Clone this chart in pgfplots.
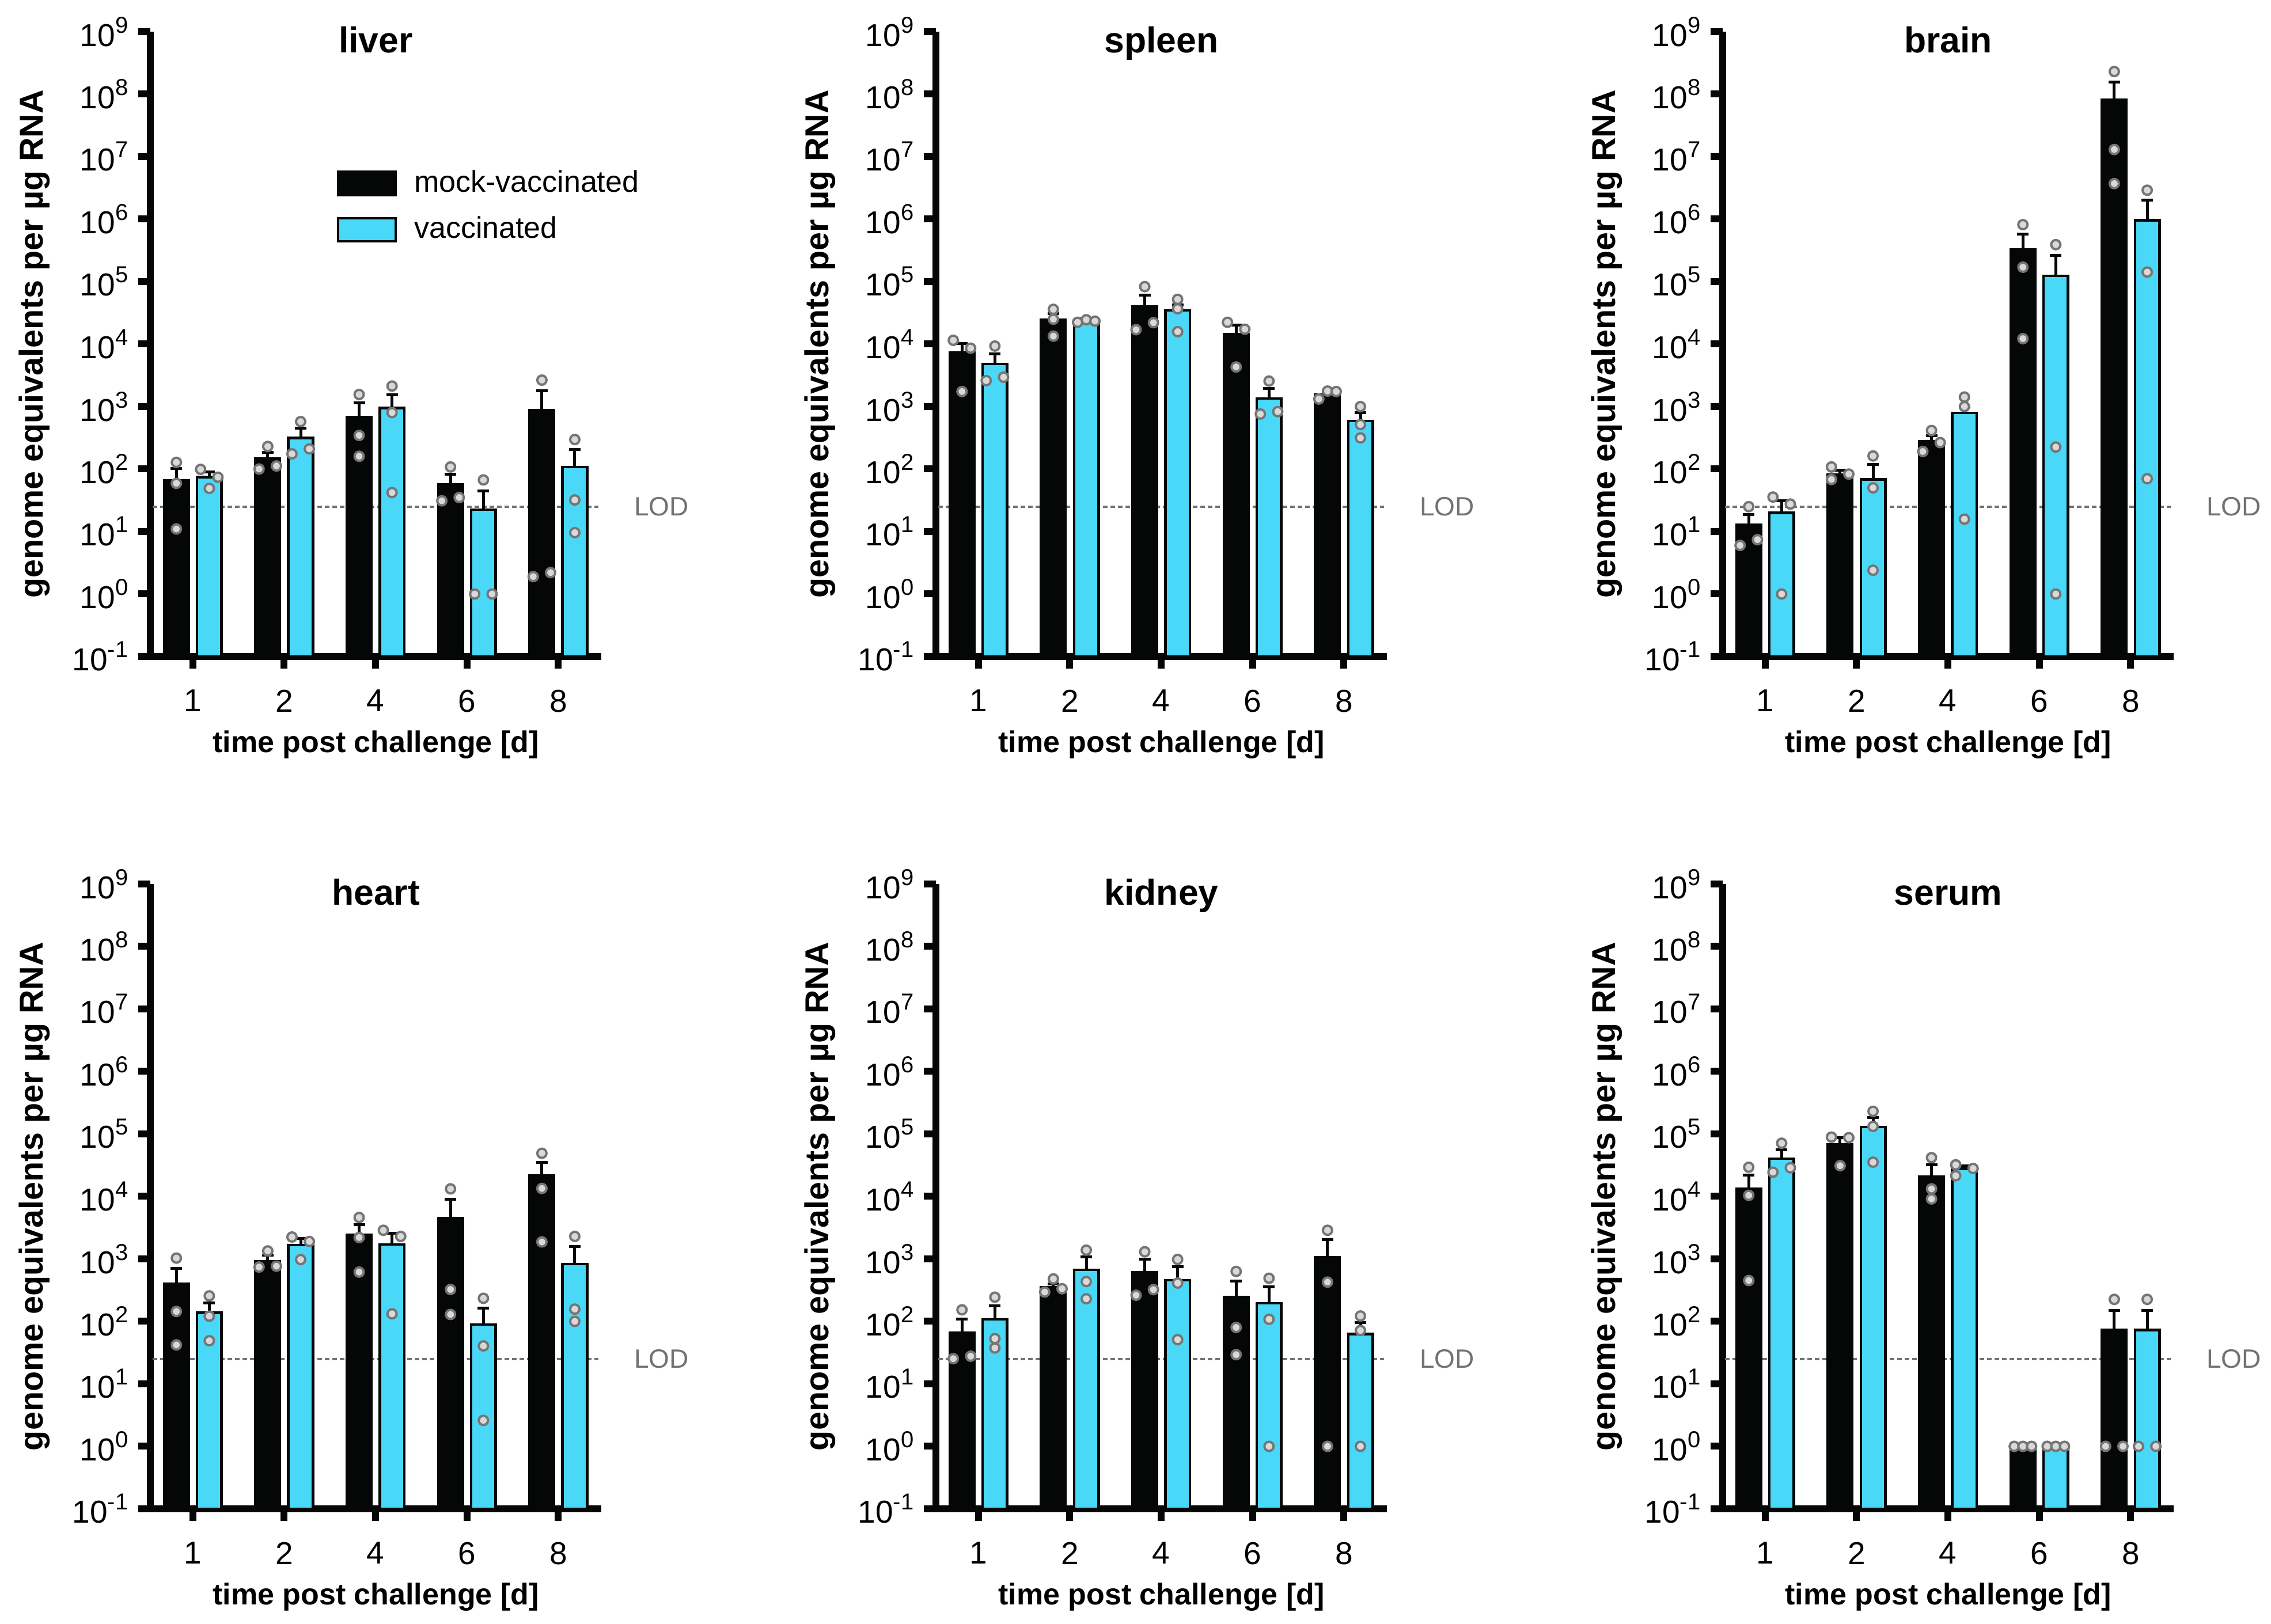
\documentclass[border=0pt]{standalone}
\usepackage{pgfplots}
\pgfplotsset{compat=1.18}
\usepackage{fontspec}
\setmainfont{Liberation Sans}

\definecolor{mockblk}{HTML}{050707}
\definecolor{vaccyan}{HTML}{4AD8F9}
\definecolor{dotedge}{HTML}{757575}
\definecolor{dotfill}{HTML}{D9D9D9}
\definecolor{lodgray}{HTML}{707375}

% 10^k tick label, exponent set large as in the figure
\newcommand\tp[1]{10\raisebox{4.6pt}{\fontsize{8}{8}\selectfont #1}}

\pgfplotsset{
  organpanel/.style={
    anchor=south west, scale only axis, width=156.6pt, height=217pt,
    ymin=0.1, ymax=1e9, log origin y=infty,
    xmin=-0.465, xmax=4.47,
    axis x line*=bottom, axis y line*=left,
    axis line style={line width=2.4pt, mockblk},
    tick style={line width=2.4pt, mockblk},
    tick align=outside, major tick length=4.2pt,
    yminorticks=false,
    ytick={1e-1,1,10,100,1e3,1e4,1e5,1e6,1e7,1e8,1e9},
    yticklabels={\tp{-1},\tp{0},\tp{1},\tp{2},\tp{3},\tp{4},\tp{5},\tp{6},\tp{7},\tp{8},\tp{9}},
    xtick={0,1,2,3,4}, xticklabels={1,2,4,6,8},
    tick label style={font=\fontsize{11}{13}\selectfont},
    xticklabel style={yshift=-3.8pt},
    xlabel={time post challenge [d]},
    ylabel={genome equivalents per µg RNA},
    xlabel style={at={(axis description cs:0.5,-0.141)}, anchor=center,
      font=\bfseries\fontsize{10.4}{12}\selectfont},
    ylabel style={at={(axis description cs:-0.2567,0.5)}, anchor=center,
      font=\bfseries\fontsize{11.5}{13}\selectfont},
    title style={at={(axis description cs:0.5,0.939)}, anchor=base,
      font=\bfseries\fontsize{12.5}{14}\selectfont},
    clip=false
  },
  mockbar/.style={ybar, bar width=0.268, bar shift=0pt,
    fill=mockblk, draw=mockblk, line width=0.9pt,
    legend image code/.code={\draw[fill=mockblk, draw=mockblk, line width=0.9pt] (0pt,-4pt) rectangle (20pt,4pt);},
    error bars/y dir=plus, error bars/y explicit,
    error bars/error bar style={line width=1pt, draw=mockblk},
    error bars/error mark options={rotate=90, mark size=2pt, line width=1pt, draw=mockblk}},
  vaccbar/.style={ybar, bar width=0.268, bar shift=0pt,
    fill=vaccyan, draw=mockblk, line width=0.9pt,
    legend image code/.code={\draw[fill=vaccyan, draw=mockblk, line width=0.9pt] (0pt,-4pt) rectangle (20pt,4pt);},
    error bars/y dir=plus, error bars/y explicit,
    error bars/error bar style={line width=1pt, draw=mockblk},
    error bars/error mark options={rotate=90, mark size=2pt, line width=1pt, draw=mockblk}},
  dotpts/.style={only marks, mark=*, mark size=1.6pt,
    mark options={draw=dotedge, fill=dotfill, line width=0.8pt}, forget plot},
  lodline/.style={lodgray, line width=0.8pt, dash pattern=on 1.6pt off 1pt, forget plot}
}
\tikzset{lodlabel/.style={anchor=west, inner sep=0pt, xshift=11.2pt, text=lodgray,
  font=\fontsize{9.2}{12}\selectfont}}

\begin{document}
\begin{tikzpicture}
\path[use as bounding box] (0,0) rectangle (788.6pt,564pt);

%% liver
\begin{semilogyaxis}[organpanel, at={(52.2pt,336pt)}, title={liver},
  legend style={draw=none, fill=none, at={(axis description cs:0.412,0.788)},
    anchor=north west, inner sep=0pt, row sep=3pt, legend cell align=left,
    font=\fontsize{10.4}{12}\selectfont,
    /tikz/every odd column/.append style={column sep=4pt}}]
\addplot[lodline] coordinates {(-0.44,25) (4.44,25)};
\addplot[mockbar] coordinates {
  (-0.18,66) +- (0,36)
  (0.82,146) +- (0,39)
  (1.82,680) +- (0,470)
  (2.82,57) +- (0,26)
  (3.82,870) +- (0,910)
};
\addlegendentry{mock-vaccinated}
\addplot[vaccbar] coordinates {
  (0.18,74) +- (0,15)
  (1.18,315) +- (0,140)
  (2.18,950) +- (0,610)
  (3.18,22.4) +- (0,22.6)
  (4.18,108) +- (0,98)
};
\addlegendentry{vaccinated}
\addplot[dotpts] coordinates {
  (-0.18,128) (-0.18,59) (-0.18,11)
  (0.085,99) (0.18,49) (0.275,74)
  (0.725,100) (0.82,230) (0.915,112)
  (1.085,175) (1.18,575) (1.275,210)
  (1.82,1560) (1.82,345) (1.82,160)
  (2.18,2130) (2.18,800) (2.18,42)
  (2.725,31) (2.82,108) (2.915,35)
  (3.085,1) (3.18,67) (3.275,1)
  (3.725,1.9) (3.82,2650) (3.915,2.2)
  (4.18,297) (4.18,32) (4.18,9.6)
};
\node[lodlabel] at (axis cs:4.47,25) {LOD};
\end{semilogyaxis}

%% spleen
\begin{semilogyaxis}[organpanel, at={(325pt,336pt)}, title={spleen}]
\addplot[lodline] coordinates {(-0.44,25) (4.44,25)};
\addplot[mockbar] coordinates {
  (-0.18,7300) +- (0,3000)
  (0.82,24500) +- (0,6500)
  (1.82,40000) +- (0,21000)
  (2.82,14400) +- (0,5600)
  (3.82,1560) +- (0,200)
};
\addplot[vaccbar] coordinates {
  (0.18,4800) +- (0,2200)
  (1.18,23300) +- (0,2700)
  (2.18,34700) +- (0,8000)
  (3.18,1340) +- (0,610)
  (4.18,590) +- (0,210)
};
\addplot[dotpts] coordinates {
  (-0.275,11500) (-0.18,1740) (-0.085,8600)
  (0.085,2600) (0.18,9300) (0.275,2950)
  (0.82,36000) (0.82,25000) (0.82,13400)
  (1.085,22300) (1.18,24500) (1.275,23300)
  (1.725,17000) (1.82,83000) (1.915,22000)
  (2.18,52000) (2.18,36700) (2.18,15800)
  (2.725,22300) (2.82,4300) (2.915,17300)
  (3.085,760) (3.18,2560) (3.275,830)
  (3.725,1320) (3.82,1770) (3.915,1740)
  (4.18,1000) (4.18,515) (4.18,315)
};
\node[lodlabel] at (axis cs:4.47,25) {LOD};
\end{semilogyaxis}

%% brain
\begin{semilogyaxis}[organpanel, at={(598.2pt,336pt)}, title={brain}]
\addplot[lodline] coordinates {(-0.44,25) (4.44,25)};
\addplot[mockbar] coordinates {
  (-0.18,12.7) +- (0,6)
  (0.82,81) +- (0,14)
  (1.82,280) +- (0,65)
  (2.82,325000) +- (0,250000)
  (3.82,8.2e7) +- (0,7.4e7)
};
\addplot[vaccbar] coordinates {
  (0.18,20) +- (0,11)
  (1.18,68) +- (0,50)
  (2.18,790) +- (0,200)
  (3.18,123000) +- (0,142000)
  (4.18,960000) +- (0,1040000)
};
\addplot[dotpts] coordinates {
  (-0.275,6.0) (-0.18,25) (-0.085,7.4)
  (0.085,35.6) (0.18,1) (0.275,27.5)
  (0.725,108) (0.725,68) (0.915,83)
  (1.18,162) (1.18,50) (1.18,2.4)
  (1.725,191) (1.82,414) (1.915,265)
  (2.18,1420) (2.18,1000) (2.18,15.8)
  (2.82,815000) (2.82,170000) (2.82,12200)
  (3.18,390000) (3.18,225) (3.18,1)
  (3.82,2.3e8) (3.82,1.3e7) (3.82,3.7e6)
  (4.18,2.9e6) (4.18,142000) (4.18,70)
};
\node[lodlabel] at (axis cs:4.47,25) {LOD};
\end{semilogyaxis}

%% heart
\begin{semilogyaxis}[organpanel, at={(52.2pt,40pt)}, title={heart}]
\addplot[lodline] coordinates {(-0.44,25) (4.44,25)};
\addplot[mockbar] coordinates {
  (-0.18,400) +- (0,310)
  (0.82,910) +- (0,240)
  (1.82,2400) +- (0,1100)
  (2.82,4470) +- (0,4430)
  (3.82,21400) +- (0,13900)
};
\addplot[vaccbar] coordinates {
  (0.18,138) +- (0,58)
  (1.18,1670) +- (0,460)
  (2.18,1700) +- (0,860)
  (3.18,89) +- (0,75)
  (4.18,830) +- (0,750)
};
\addplot[dotpts] coordinates {
  (-0.18,1030) (-0.18,144) (-0.18,42)
  (0.18,256) (0.18,121) (0.18,49)
  (0.725,740) (0.82,1340) (0.915,765)
  (1.085,2240) (1.18,975) (1.275,1900)
  (1.82,4600) (1.82,2200) (1.82,615)
  (2.085,2870) (2.18,132) (2.275,2290)
  (2.82,13200) (2.82,324) (2.82,129)
  (3.18,234) (3.18,40.5) (3.18,2.6)
  (3.82,49000) (3.82,13400) (3.82,1870)
  (4.18,2290) (4.18,157) (4.18,100)
};
\node[lodlabel] at (axis cs:4.47,25) {LOD};
\end{semilogyaxis}

%% kidney
\begin{semilogyaxis}[organpanel, at={(325pt,40pt)}, title={kidney}]
\addplot[lodline] coordinates {(-0.44,25) (4.44,25)};
\addplot[mockbar] coordinates {
  (-0.18,66) +- (0,44)
  (0.82,354) +- (0,40)
  (1.82,605) +- (0,380)
  (2.82,244) +- (0,196)
  (3.82,1070) +- (0,980)
};
\addplot[vaccbar] coordinates {
  (0.18,108) +- (0,70)
  (1.18,665) +- (0,405)
  (2.18,458) +- (0,297)
  (3.18,195) +- (0,160)
  (4.18,63) +- (0,33)
};
\addplot[dotpts] coordinates {
  (-0.275,25.3) (-0.18,153) (-0.085,27.7)
  (0.18,244) (0.18,53) (0.18,37.5)
  (0.725,295) (0.82,478) (0.915,333)
  (1.18,1380) (1.18,434) (1.18,230)
  (1.725,262) (1.82,1300) (1.915,322)
  (2.18,980) (2.18,410) (2.18,51)
  (2.82,630) (2.82,80) (2.82,29.3)
  (3.18,490) (3.18,108) (3.18,1)
  (3.82,2870) (3.82,425) (3.82,1)
  (4.18,122) (4.18,71.5) (4.18,1)
};
\node[lodlabel] at (axis cs:4.47,25) {LOD};
\end{semilogyaxis}

%% serum
\begin{semilogyaxis}[organpanel, at={(598.2pt,40pt)}, title={serum}]
\addplot[lodline] coordinates {(-0.44,25) (4.44,25)};
\addplot[mockbar] coordinates {
  (-0.18,13200) +- (0,8700)
  (0.82,67600) +- (0,20400)
  (1.82,20600) +- (0,11400)
  (2.82,1) +- (0,0)
  (3.82,73) +- (0,77)
};
\addplot[vaccbar] coordinates {
  (0.18,40000) +- (0,16000)
  (1.18,129000) +- (0,53000)
  (2.18,27700) +- (0,3300)
  (3.18,1) +- (0,0)
  (4.18,73) +- (0,77)
};
\addplot[dotpts] coordinates {
  (-0.18,29300) (-0.18,10400) (-0.18,450)
  (0.085,24400) (0.18,71000) (0.275,28700)
  (0.725,89000) (0.82,31000) (0.915,87000)
  (1.18,230000) (1.18,132000) (1.18,35300)
  (1.82,41700) (1.82,13200) (1.82,9100)
  (2.085,32000) (2.085,21400) (2.275,28000)
  (2.725,1) (2.82,1) (2.915,1)
  (3.085,1) (3.18,1) (3.275,1)
  (3.725,1) (3.82,225) (3.915,1)
  (4.085,1) (4.18,225) (4.275,1)
};
\node[lodlabel] at (axis cs:4.47,25) {LOD};
\end{semilogyaxis}
\end{tikzpicture}
\end{document}
